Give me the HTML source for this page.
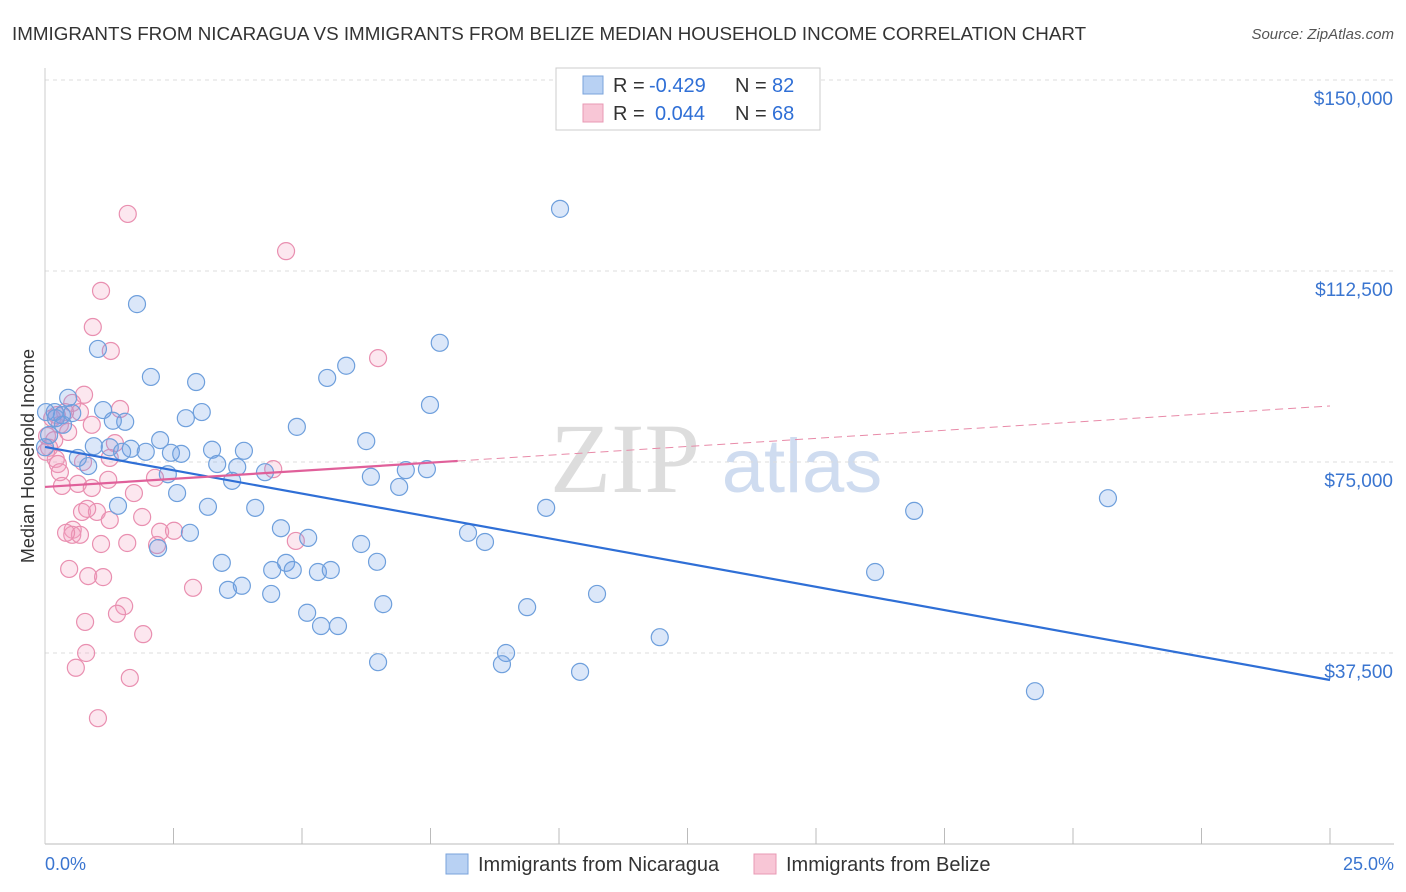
<!DOCTYPE html>
<html><head><meta charset="utf-8">
<style>
body{margin:0;background:#fff;font-family:"Liberation Sans",sans-serif;}
#wrap{position:relative;width:1406px;height:892px;overflow:hidden;}
</style></head>
<body>
<div id="wrap">
<svg id="svg" width="1406" height="892" xmlns="http://www.w3.org/2000/svg">
<text x="12" y="40" font-size="18.8" fill="#333">IMMIGRANTS FROM NICARAGUA VS IMMIGRANTS FROM BELIZE MEDIAN HOUSEHOLD INCOME CORRELATION CHART</text>
<text x="1394" y="39" font-size="15" fill="#555" font-style="italic" text-anchor="end">Source: ZipAtlas.com</text>
<text x="625" y="492" font-size="100" fill="#ddd" font-family="Liberation Serif" text-anchor="middle">ZIP</text>
<text x="802" y="492" font-size="76" fill="#cfdcf0" text-anchor="middle">atlas</text>
<text transform="translate(34,456) rotate(-90)" font-size="18" fill="#333" text-anchor="middle">Median Household Income</text>
<g id="grid"></g><g id="pts"></g><g id="lines"></g>
<g>
<rect x="556" y="68" width="264" height="62" fill="#fff" stroke="#ccc"/>
<rect x="583" y="76" width="20" height="18" fill="#b8d1f3" stroke="#7aa3db"/>
<rect x="583" y="104" width="20" height="18" fill="#f8c6d6" stroke="#e899b4"/>
<text x="613" y="92" font-size="20" fill="#333">R =</text>
<text x="649" y="92" font-size="20" fill="#2f6fd6">-0.429</text>
<text x="735" y="92" font-size="20" fill="#333">N =</text>
<text x="772" y="92" font-size="20" fill="#2f6fd6">82</text>
<text x="613" y="120" font-size="20" fill="#333">R =</text>
<text x="655" y="120" font-size="20" fill="#2f6fd6">0.044</text>
<text x="735" y="120" font-size="20" fill="#333">N =</text>
<text x="772" y="120" font-size="20" fill="#2f6fd6">68</text>
</g>
<g>
<rect x="446" y="854" width="22" height="20" fill="#b8d1f3" stroke="#7aa3db"/>
<text x="478" y="871" font-size="20" fill="#333">Immigrants from Nicaragua</text>
<rect x="754" y="854" width="22" height="20" fill="#f8c6d6" stroke="#e899b4"/>
<text x="786" y="871" font-size="20" fill="#333">Immigrants from Belize</text>
</g>
<text x="45" y="870" font-size="18" fill="#3a75d0">0.0%</text>
<text x="1394" y="870" font-size="18" fill="#3a75d0" text-anchor="end">25.0%</text>
</svg>
</div>
<script>
const yTicks=[150000,112500,75000,37500];
const yTickLabels=["$150,000","$112,500","$75,000","$37,500"];
const blueX=[1.79,10.02,1.03,7.68,2.06,2.94,5.86,5.49,0.45,7.49,1.13,3.05,2.74,1.56,1.32,0.19,0.33,0.53,4.90,6.25,2.24,3.25,3.87,1.67,1.26,0.95,1.96,2.45,2.65,1.50,0.64,0.84,3.35,3.74,4.28,6.34,7.02,7.43,2.39,3.64,6.89,2.57,20.68,3.17,1.42,4.09,9.75,16.91,4.59,5.12,2.82,8.23,8.56,6.15,2.20,3.44,4.69,6.46,4.42,4.82,5.31,5.56,16.15,3.83,3.56,4.40,10.74,6.58,9.38,5.10,5.37,5.70,11.96,8.97,8.89,6.48,10.41,19.26,0.02,0.21,0.08,0.35,0.00];
const blueY=[106.0,124.7,97.2,98.4,91.7,90.7,93.9,91.5,87.6,86.2,85.2,84.8,83.6,82.9,83.1,84.8,84.2,84.6,81.9,79.1,79.3,77.4,77.2,77.6,77.9,78.1,77.0,76.8,76.6,77.0,75.8,74.2,74.6,74.0,73.0,72.1,73.4,73.6,72.6,71.3,70.1,68.9,67.9,66.2,66.4,66.0,66.0,65.4,62.0,60.1,61.1,61.1,59.3,58.9,58.1,55.2,55.2,55.4,53.8,53.8,53.4,53.8,53.4,50.7,49.9,49.1,49.1,47.1,46.5,45.4,42.8,42.8,40.6,37.5,35.3,35.7,33.8,30.0,84.8,83.6,80.3,82.3,77.9];
const pinkX=[1.61,4.69,1.09,0.93,1.28,6.48,0.76,1.46,0.53,0.68,0.39,0.23,0.14,0.29,0.91,0.45,0.04,0.18,1.36,0.08,0.21,0.02,4.44,0.25,0.74,1.26,0.29,2.14,1.23,0.64,0.33,0.91,1.73,1.89,0.72,1.01,0.82,1.26,0.54,0.53,0.68,2.24,2.51,1.09,1.60,2.18,4.88,0.47,0.84,1.13,2.88,1.54,1.40,0.78,1.91,0.80,0.60,1.65,1.03,0.41];
const pinkY=[123.7,116.4,108.6,101.5,96.8,95.4,88.2,85.4,86.6,84.8,84.8,84.2,83.6,82.3,82.3,80.9,80.1,79.3,78.7,77.8,75.6,77.0,73.6,74.6,75.0,75.8,73.0,71.9,71.5,70.7,70.3,69.9,68.9,64.2,65.2,65.2,65.8,63.6,61.7,60.7,60.7,61.3,61.5,58.9,59.1,58.7,59.5,54.0,52.6,52.4,50.3,46.7,45.2,43.6,41.2,37.5,34.6,32.6,24.7,61.1];
const blueTrend=[77950,32200];
const pinkTrend=[70100,86000];
const pinkSolidEnd=8.03;

const NS="http://www.w3.org/2000/svg";
const X0=45,X1=1330,Y0=844,PPY=191/37500;
const xs=v=>X0+(v/25)*(X1-X0);
const ys=v=>Y0-v*PPY;
function mk(t,a,p){const e=document.createElementNS(NS,t);for(const k in a)e.setAttribute(k,a[k]);p.appendChild(e);return e;}
const grid=document.getElementById('grid');
yTicks.forEach((t,i)=>{
  const l=mk('line',{x1:X0,x2:1394,y1:ys(t),y2:ys(t),stroke:'#ddd','stroke-dasharray':'4,4'},grid);
  
  
  const tx=mk('text',{x:1393,y:ys(t)+25,'font-size':19,fill:'#3a75d0','text-anchor':'end'},grid);
  tx.textContent=yTickLabels[i];
  
  
});
const ax=mk('line',{x1:X0,x2:1394,y1:Y0,y2:Y0,stroke:'#bbb'},grid);


const ay=mk('line',{x1:X0,x2:X0,y1:68,y2:Y0,stroke:'#ccc'},grid);


for(let i=1;i<=10;i++){
  const tk=mk('line',{x1:xs(i*2.5),x2:xs(i*2.5),y1:Y0,y2:Y0-16,stroke:'#bbb'},grid);
  
  
}
const pts=document.getElementById('pts');
function dots(X,Y,fill,stroke,name){
  X.forEach((x,i)=>{
    const c=mk('circle',{cx:xs(x),cy:ys(Y[i]*1000),r:8.5,fill:fill,stroke:stroke,'stroke-width':1.2},pts);
    
    
  });
}
dots(pinkX,pinkY,'rgba(243,160,190,0.25)','#e98fb0','belize-point');
dots(blueX,blueY,'rgba(110,160,230,0.25)','#6e9fdc','nicaragua-point');
const lines=document.getElementById('lines');
const bl=mk('line',{x1:xs(0),y1:ys(blueTrend[0]),x2:xs(25),y2:ys(blueTrend[1]),stroke:'#2f6fd6','stroke-width':2.2},lines);


const pAt=x=>pinkTrend[0]+(pinkTrend[1]-pinkTrend[0])*x/25;
const ps=mk('line',{x1:xs(0),y1:ys(pAt(0)),x2:xs(pinkSolidEnd),y2:ys(pAt(pinkSolidEnd)),stroke:'#e0609a','stroke-width':2.2},lines);


const pd=mk('line',{x1:xs(pinkSolidEnd),y1:ys(pAt(pinkSolidEnd)),x2:xs(25),y2:ys(pAt(25)),stroke:'#e88aa8','stroke-width':1,'stroke-dasharray':'8,5'},lines);


</script>
</body></html>
